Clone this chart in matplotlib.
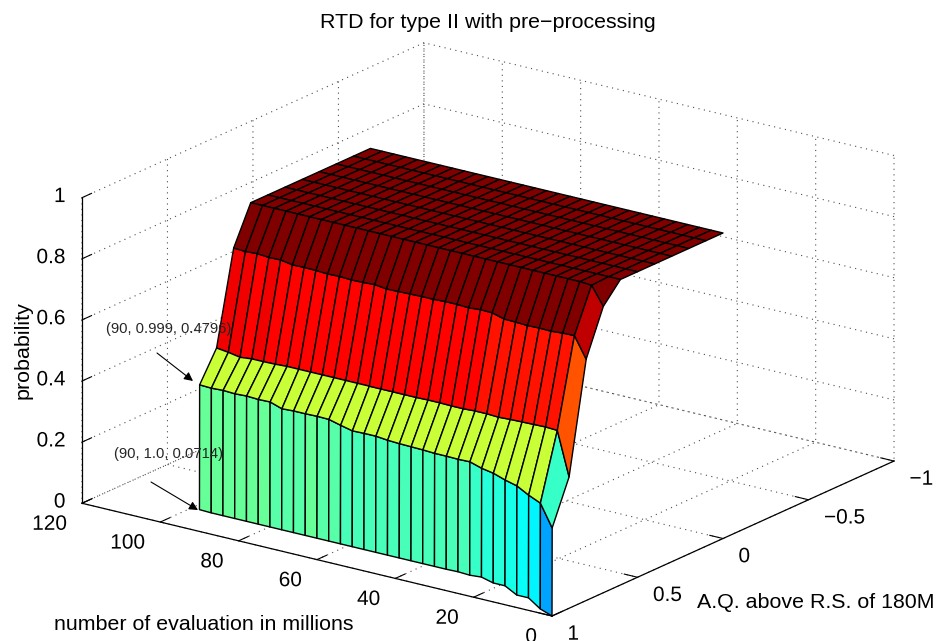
import matplotlib
matplotlib.use('Agg')
import matplotlib.pyplot as plt
import matplotlib.patheffects as pe
from matplotlib.colors import LinearSegmentedColormap
import numpy as np
from mpl_toolkits.mplot3d import proj3d

plt.rcParams['font.family'] = ['Liberation Sans', 'DejaVu Sans']
plt.rcParams['grid.linestyle'] = (0, (1, 4))
plt.rcParams['grid.linewidth'] = 0.8
plt.rcParams['grid.color'] = '0.3'

# evaluations (millions), x = 0, 3, ... 90
evals = [0, 3, 6, 9, 12, 15, 18, 21, 24, 27, 30, 33, 36, 39, 42, 45, 48, 51, 54, 57, 60,
         63, 66, 69, 72, 75, 78, 81, 84, 87, 90]
quality = [0, 0.1, 0.2, 0.3, 0.4, 0.5, 0.6, 0.7, 0.8, 0.9, 0.999, 1.0]

# probability per row of quality
p_flat = [1.0] * 31
p_07 = [0.937, 0.997, 1, 1, 1, 1, 1, 1, 1, 1, 1, 1, 1, 1, 1, 1, 1, 1, 1, 1, 1,
        1, 1, 1, 1, 1, 1, 1, 1, 1, 1]
p_08 = [0.79, 0.858, 0.857, 0.854, 0.855, 0.854, 0.856, 0.857, 0.868, 0.869, 0.866, 0.868, 0.868,
        0.866, 0.866, 0.865, 0.864, 0.863, 0.868, 0.866, 0.865, 0.867, 0.866, 0.868, 0.869, 0.868,
        0.875, 0.874, 0.877, 0.875, 0.877]
p_09 = [0.43, 0.573, 0.575, 0.574, 0.573, 0.572, 0.57, 0.572, 0.572, 0.57, 0.57, 0.571, 0.571,
        0.57, 0.57, 0.57, 0.57, 0.57, 0.57, 0.57, 0.57, 0.57, 0.57, 0.57, 0.57, 0.568, 0.567,
        0.567, 0.563, 0.57, 0.575]
p_0999 = [0.288, 0.36, 0.377, 0.398, 0.408, 0.421, 0.428, 0.44, 0.439, 0.44, 0.44, 0.442, 0.443,
          0.444, 0.446, 0.45, 0.45, 0.449, 0.458, 0.468, 0.469, 0.468, 0.468, 0.466, 0.479, 0.478,
          0.48, 0.478, 0.48, 0.478, 0.4796]
p_1 = [0.0, 0.014, 0.041, 0.041, 0.062, 0.062, 0.072, 0.069, 0.071, 0.07, 0.07, 0.07, 0.07, 0.07,
       0.07, 0.07, 0.07, 0.07, 0.07, 0.07, 0.07, 0.07, 0.07, 0.07, 0.07, 0.07, 0.07, 0.07, 0.07,
       0.07, 0.0714]

x_ticks = [0, 20, 40, 60, 80, 100, 120]
y_ticks = [-1, -0.5, 0, 0.5, 1]
z_ticks = [0, 0.2, 0.4, 0.6, 0.8, 1]

Z = np.array([p_flat] * 7 + [p_07, p_08, p_09, p_0999, p_1])
X, Y = np.meshgrid(evals, quality)

fig = plt.figure(figsize=(9.4, 6.41), dpi=100)
ax = fig.add_axes([0.2, 0.0, 641 / 940, 1.0], projection='3d', proj_type='ortho')
ax.view_init(elev=19.25, azim=126.04)
ax.set_box_aspect((582, 582, 324))
ax.set_xlim(0, 120, view_margin=0)
ax.set_ylim(-1, 1, view_margin=0)
ax.set_zlim(0, 1, view_margin=0)

# matlab style jet, 64 levels
jet = LinearSegmentedColormap.from_list('mjet', [(0, (0, 0, 0.56)), (0.125, (0, 0, 1)), (0.375, (0, 1, 1)),
                                                 (0.625, (1, 1, 0)), (0.875, (1, 0, 0)), (1, (0.5, 0, 0))], N=64)
ax.plot_surface(X, Y, Z, rstride=1, cstride=1, facecolors=jet(Z), shade=False,
                edgecolor='k', linewidth=1.0, antialiased=True)

ax.set_xticks(x_ticks)
ax.set_yticks(y_ticks)
ax.set_zticks(z_ticks)
ax.set_xticklabels([str(t) for t in x_ticks])
ax.set_yticklabels(['\u22121', '\u22120.5', '0', '0.5', '1'])
ax.set_zticklabels(['0', '0.2', '0.4', '0.6', '0.8', '1'])
ax.tick_params(labelsize=15, pad=6)
for a in (ax.xaxis, ax.yaxis, ax.zaxis):
    a.set_pane_color((1, 1, 1, 0))
    a.pane.set_edgecolor('none')
    a.line.set_color('k')
    a.line.set_linewidth(0.9)
    a._axinfo['tick']['inward_factor'] = 0.0
    a._axinfo['tick']['outward_factor'] = 0.35
    a._axinfo['tick']['linewidth'] = {True: 0.8, False: 0.5}
ax.patch.set_alpha(0)
ax.zaxis.set_ticks_position('upper')

# tick labels: alignment and a small shift in pixels (Stroke is the path effect that honours offset)
def nudge(axis, ha, dx, dy):
    for t in axis.get_major_ticks():
        t.label1.set_ha(ha)
        t.label1.set_va('center')
        t.label1.set_path_effects([pe.Stroke(linewidth=0, offset=(dx * 0.72, dy * 0.72))])
nudge(ax.xaxis, 'right', 0, -1)
nudge(ax.yaxis, 'left', -5, 0)
nudge(ax.zaxis, 'right', 19, 3)

# move the square axes so the box corners land where they are in the picture
fig.canvas.draw()
def to_px(x, y, z):
    px, py, _ = proj3d.proj_transform(x, y, z, ax.get_proj())
    return ax.transData.transform((px, py))
a_px = to_px(0, 1, 0)
r_px = to_px(0, -1, 0)
target_a = np.array([552, 641 - 616])
target_r = np.array([894, 641 - 461])
scale = np.linalg.norm(target_r - target_a) / np.linalg.norm(r_px - a_px)
bb = ax.get_position()
centre = np.array([(bb.x0 + bb.x1) / 2 * 940, (bb.y0 + bb.y1) / 2 * 641])
side = bb.width * 940 * scale
new_c = target_a - scale * (a_px - centre)
ax.set_position([(new_c[0] - side / 2) / 940, (new_c[1] - side / 2) / 641, side / 940, side / 641])

# overlay in picture pixels for the texts and arrows
over = fig.add_axes([0, 0, 1, 1])
over.set_xlim(0, 940)
over.set_ylim(641, 0)
over.axis('off')
over.text(488, 23, 'RTD for type II with pre\u2212processing', fontsize=15.4, ha='center', va='center')
over.text(23, 350, 'probability', fontsize=15.4, rotation=90, ha='center', va='center')
over.text(204, 625, 'number of evaluation in millions', fontsize=15.4, ha='center', va='center')
over.text(816, 603, 'A.Q. above R.S. of 180M', fontsize=15.4, ha='center', va='center')
arrow = dict(arrowstyle='-|>', color='k', lw=0.8, mutation_scale=13, shrinkA=0, shrinkB=0)
over.annotate('', xy=(193, 381), xytext=(157, 353), arrowprops=arrow)
over.annotate('', xy=(198, 510), xytext=(151, 482), arrowprops=arrow)
over.text(169, 329, '(90, 0.999, 0.4796)', fontsize=10.6, ha='center', va='center', color='0.15')
over.text(168, 454, '(90, 1.0, 0.0714)', fontsize=10.6, ha='center', va='center', color='0.15')

fig.savefig('out.png', dpi=100)
